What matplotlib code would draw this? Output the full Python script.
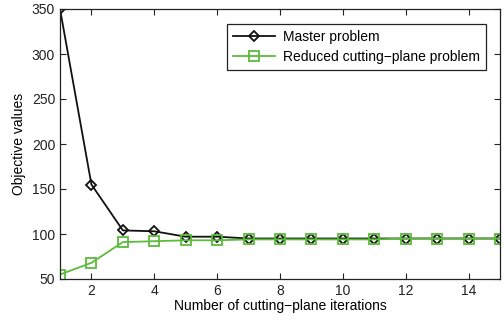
import matplotlib
matplotlib.use("Agg")
import matplotlib.pyplot as plt

iterations = list(range(1, 16))
master = [350, 155, 104, 103, 97, 97, 95, 95, 95, 95, 95, 95, 95, 95, 95]
reduced = [55, 68, 91, 92, 93, 93, 94, 94, 94, 94, 94, 95, 95, 95, 95]
xticks = [2, 4, 6, 8, 10, 12, 14]
yticks = [50, 100, 150, 200, 250, 300, 350]

plt.rcParams['font.family'] = ['Liberation Sans', 'DejaVu Sans']
fig = plt.figure(figsize=(5.04, 3.22), dpi=100)
ax = fig.add_axes([60/504, 1-279/322, 440/504, 270/322])

green = '#5dbb3c'
ax.plot(iterations, master, color='#111111', lw=1.3, marker='D', ms=5.5,
        mfc='none', mec='#111111', mew=1.3, label='Master problem')
ax.plot(iterations, reduced, color=green, lw=1.3, marker='s', ms=6.5,
        mfc='none', mec=green, mew=1.3, label='Reduced cutting\u2212plane problem')

ax.set_xlim(1, 15)
ax.set_ylim(50, 350)
ax.set_xticks(xticks)
ax.set_yticks(yticks)
ax.tick_params(direction='in', top=True, right=True, labelsize=10, length=4, colors='#222222')
for s in ax.spines.values():
    s.set_color('#222222')
    s.set_linewidth(0.9)
ax.set_xlabel('Number of cutting\u2212plane iterations', fontsize=10, labelpad=1)
ax.set_ylabel('Objective values', fontsize=10, labelpad=4)
leg = ax.legend(loc='upper right', fontsize=10, fancybox=False, edgecolor='#222222',
                framealpha=1, handlelength=3.0, borderpad=0.45, labelspacing=0.4,
                handletextpad=0.6, bbox_to_anchor=(0.985, 0.97))
leg.get_frame().set_linewidth(0.9)
fig.savefig('out.png', dpi=100)
